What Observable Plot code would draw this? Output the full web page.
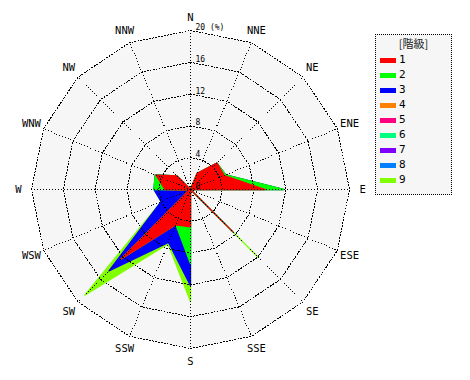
<!DOCTYPE html>
<html><head><meta charset="utf-8">
<script src="https://cdn.jsdelivr.net/npm/d3@7"></script>
<script src="https://cdn.jsdelivr.net/npm/@observablehq/plot@0.6"></script>
<style>
body{margin:0;background:#fff;}
#wrap{position:relative;width:470px;height:380px;overflow:hidden;}
#wrap svg{position:absolute;left:0;top:0;}
.lg-box{position:absolute;left:375px;top:34px;width:77px;height:161px;border:1px dotted #000;background:#f6f6f6;box-sizing:border-box;}
.lg-title{position:absolute;left:375px;top:36px;width:77px;text-align:center;font-family:"Noto Sans CJK JP",sans-serif;font-size:11px;line-height:14px;color:#222;}
.lg-sw{position:absolute;width:16px;height:5px;}
.lg-tx{position:absolute;font-family:"DejaVu Sans Mono",monospace;font-size:11px;line-height:12px;color:#000;}
</style></head><body><div id="wrap"></div>
<script>
// 16 wind directions (clockwise from N)
const directions = ["N","NNE","NE","ENE","E","ESE","SE","SSE","S","SSW","SW","WSW","W","WNW","NW","NNW"];
// classes
const classLabels = ["1","2","3","4","5","6","7","8","9"];
const classColors = ["#ff0000","#00ff00","#0000ff","#ff8000","#ff0080","#00ff80","#8000ff","#0080ff","#80ff00"];
// frequency (%) per class, per direction
const c1 = [0, 2.2, 4.7, 4.6, 9.4, 0, 7.5, 0, 4.7, 4.8, 12.4, 0.2, 3.2, 4.7, 2.4, 0];
const c2 = [0, 0, 0, 0.2, 2.3, 0, 0, 0, 4.6, 0, 0, 0, 1.4, 0.1, 0, 0];
const c3 = [0, 0, 0, 0, 0, 0, 0, 0, 2.8, 2.4, 2.1, 3.8, 0, 0, 0, 0];
const c4 = [0, 0, 0, 0, 0, 0, 0, 0, 0, 0, 0, 0, 0, 0, 0, 0];
const c5 = [0, 0, 0, 0, 0, 0, 0, 0, 0, 0, 0, 0, 0, 0, 0, 0];
const c6 = [0, 0, 0, 0, 0, 0, 0, 0, 0, 0, 0, 0, 0, 0, 0, 0];
const c7 = [0, 0, 0, 0, 0, 0, 0, 0, 0, 0, 0, 0, 0, 0, 0, 0];
const c8 = [0, 0, 0, 0, 0, 0, 0, 0, 0, 0, 0, 0, 0, 0, 0, 0];
const c9 = [0, 0, 0, 0, 0, 0, 4.5, 0, 2.0, 0.2, 4.3, 0, 0, 0, 0, 0];
// radial ticks
const ringTicks = [0, 4, 8, 12, 16, 20];
const ringLabels = ["0", "4", "8", "12", "16", "20 (%)"];

const classes = [c1,c2,c3,c4,c5,c6,c7,c8,c9];
const rMax = d3.max(ringTicks);
const n = directions.length;
const ang = i => i * 2 * Math.PI / n;
const px = (r, i) => r * Math.sin(ang(i));
const py = (r, i) => r * Math.cos(ang(i));

// cumulative per class
let acc = new Array(n).fill(0);
const cum = classes.map(c => { acc = acc.map((a, i) => a + c[i]); return acc.slice(); });

const marks = [];
// background of the outer ring
const outer = directions.map((d, i) => ({x: px(rMax, i), y: py(rMax, i)}));
marks.push(Plot.line(outer, {x: "x", y: "y", curve: "linear-closed", fill: "#f6f6f6", stroke: "none"}));
// class polygons, largest cumulative first
for (let k = classes.length - 1; k >= 0; k--) {
  if (d3.sum(classes[k]) === 0) continue;
  const pts = cum[k].map((v, i) => ({x: px(v, i), y: py(v, i)}));
  marks.push(Plot.line(pts, {x: "x", y: "y", curve: "linear-closed", fill: classColors[k], stroke: classColors[k], strokeWidth: 1.3, strokeLinejoin: "round"}));
}
// ring grid
for (const t of ringTicks.filter(t => t > 0)) {
  const ring = directions.map((d, i) => ({x: px(t, i), y: py(t, i)}));
  marks.push(Plot.line(ring, {x: "x", y: "y", curve: "linear-closed", stroke: "#000", strokeWidth: 1, strokeDasharray: "1,2", shapeRendering: "crispEdges"}));
}
// spokes
marks.push(Plot.link(directions, {x1: 0, y1: 0, x2: (d, i) => px(rMax, i), y2: (d, i) => py(rMax, i), stroke: "#000", strokeWidth: 1, strokeDasharray: "1,2", shapeRendering: "crispEdges"}));
// direction labels
marks.push(Plot.text(directions, {x: (d, i) => px(rMax * 1.083, i), y: (d, i) => py(rMax * 1.083, i), text: d => d, fontSize: 10.5, fontFamily: "DejaVu Sans Mono, monospace", fill: "#000", textAnchor: "middle", lineAnchor: "middle"}));
// ring labels
marks.push(Plot.text(ringTicks, {x: 0, y: d => d, text: (d, i) => ringLabels[i], dx: 5, dy: -3, textAnchor: "start", lineAnchor: "middle", fontSize: 8, fontFamily: "DejaVu Sans Mono, monospace", fill: "#000"}));

const W = 470, H = 380, k = 159 / rMax, cx = 190, cy = 189;
const chart = Plot.plot({
  width: W, height: H,
  marginTop: 0, marginBottom: 0, marginLeft: 0, marginRight: 0,
  x: {domain: [-cx / k, (W - cx) / k], axis: null},
  y: {domain: [-(H - cy) / k, cy / k], axis: null},
  style: {background: "#fff"},
  marks
});
const wrap = document.getElementById("wrap");
wrap.appendChild(chart);

// legend
const box = document.createElement("div"); box.className = "lg-box"; wrap.appendChild(box);
const ttl = document.createElement("div"); ttl.className = "lg-title"; ttl.textContent = "[階級]"; wrap.appendChild(ttl);
classLabels.forEach((lab, i) => {
  const top = 60.5 + i * 14.95;
  const sw = document.createElement("div"); sw.className = "lg-sw";
  sw.style.left = "380px"; sw.style.top = (top - 2.5) + "px"; sw.style.background = classColors[i];
  wrap.appendChild(sw);
  const tx = document.createElement("div"); tx.className = "lg-tx";
  tx.style.left = "399px"; tx.style.top = (top - 6.5) + "px"; tx.textContent = lab;
  wrap.appendChild(tx);
});
</script>
</body></html>
